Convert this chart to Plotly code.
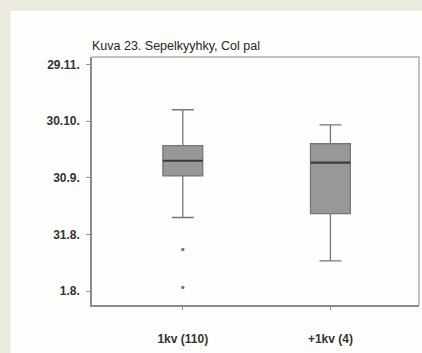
import plotly.graph_objects as go

# Day offsets counted from 1 August
tick_days = [0, 30, 60, 90, 120]
tick_text = ["1.8.", "31.8.", "30.9.", "30.10.", "29.11."]

groups = ["1kv (110)", "+1kv (4)"]
group_pos = [0, 1]
upper = [96, 88]
q3 = [77, 78]
median = [69, 68]
q1 = [61, 41]
lower = [39, 16]
outlier_x = [0, 0]
outlier_y = [22, 2]

box_w = 0.27
fig = go.Figure()

fig.add_trace(go.Box(
    x=group_pos, q1=q1, median=median, q3=q3,
    lowerfence=lower, upperfence=upper,
    width=box_w, whiskerwidth=0.55,
    fillcolor="#989898",
    line=dict(color="#767676", width=1.3),
    boxpoints=False, hoverinfo="skip", showlegend=False,
))

# heavier median bars
for xp, m in zip(group_pos, median):
    fig.add_trace(go.Scatter(
        x=[xp - box_w / 2, xp + box_w / 2], y=[m, m],
        mode="lines", line=dict(color="#3c3c3c", width=2.2),
        hoverinfo="skip", showlegend=False,
    ))

fig.add_trace(go.Scatter(
    x=outlier_x, y=outlier_y, mode="markers",
    marker=dict(color="#777777", size=3.5),
    hoverinfo="skip", showlegend=False,
))

# beige frame along the top and left edges of the page
frame = "#ece9de"
fig.add_shape(type="rect", xref="paper", yref="paper",
              x0=-0.4, x1=1.1, y0=1.185, y1=1.4,
              fillcolor=frame, line=dict(width=0), layer="below")
fig.add_shape(type="rect", xref="paper", yref="paper",
              x0=-0.4, x1=-0.25, y0=-0.3, y1=1.4,
              fillcolor=frame, line=dict(width=0), layer="below")

# lighter top and right edges of the plot box
fig.add_shape(type="path", xref="paper", yref="paper",
              path="M 0,1 L 1,1 L 1,0",
              line=dict(color="#adadad", width=1.5), layer="above")

fig.add_annotation(
    text="Kuva 23. Sepelkyyhky, Col pal",
    xref="paper", yref="paper", x=-0.006, y=1.01,
    xanchor="left", yanchor="bottom", showarrow=False,
    font=dict(family="Liberation Sans, Arial", size=12.5, color="#262626",
              weight="normal"),
)

fig.update_layout(
    width=422, height=353,
    margin=dict(l=92, r=3, t=57, b=48),
    paper_bgcolor="#fdfdfb",
    plot_bgcolor="#fdfdfb",
    font=dict(family="Liberation Sans, Arial", size=12, color="#333333",
              weight="bold"),
    xaxis=dict(
        range=[-0.615, 1.6], tickvals=group_pos, ticktext=groups,
        showgrid=False, zeroline=False,
        showline=True, linecolor="#8c8c8c", linewidth=1.5,
        ticks="outside", ticklen=3, tickcolor="#8c8c8c",
        ticklabelstandoff=19,
    ),
    yaxis=dict(
        range=[-7.3, 123.9], tickvals=tick_days, ticktext=tick_text,
        showgrid=False, zeroline=False,
        showline=True, linecolor="#8c8c8c", linewidth=1.5,
        ticks="outside", ticklen=4, tickcolor="#8c8c8c",
        ticklabelstandoff=4,
    ),
)

fig.write_html("out.html")
